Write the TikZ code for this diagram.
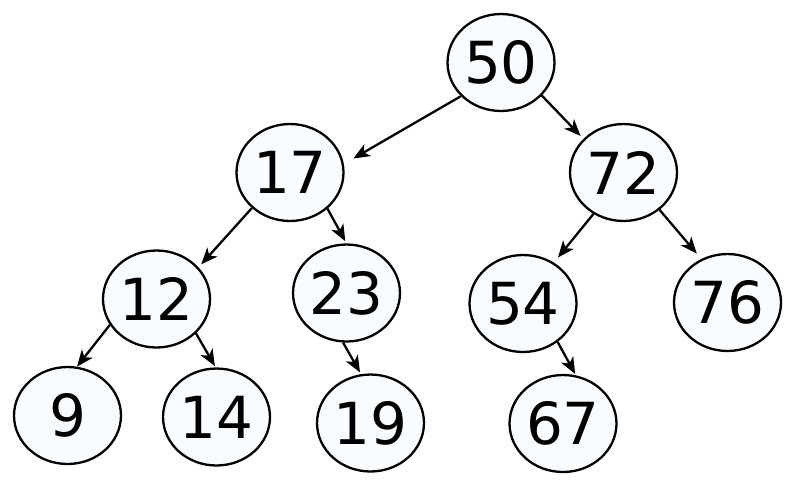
\documentclass[tikz,border=0pt]{standalone}
\usepackage{fontspec}
\setmainfont{DejaVu Sans}
\usetikzlibrary{arrows.meta,shapes.geometric}
\definecolor{keyfill}{HTML}{F8FCFF}
\tikzset{
  key/.style={draw, ellipse, line width=0.046cm, fill=keyfill, minimum width=2.14cm,
    minimum height=1.94cm, inner sep=0pt, font=\fontsize{33}{40}\selectfont},
  link/.style={line width=0.046cm, -{Stealth[length=0.33cm,width=0.27cm,inset=0.09cm]}}
}

\begin{document}
\begin{tikzpicture}[x=0.02cm, y=-0.02cm]
    \useasboundingbox (0,0) rectangle (800,485);

    \foreach \k/\x/\y in {50/501/62.5, 17/290/172.5, 72/623.5/172.5, 12/156.5/299, 23/346.5/293, 54/523/303.5, 76/727.5/302.5, 9/67.5/415.5, 14/216.5/417, 19/370.5/423, 67/563/423.5}
    {
        \node[key] (n\k) at (\x, \y) {\k};
    }

    % parent/child/out anchor/in anchor/gap
    \foreach \a/\b/\s/\t/\g in {50/17/220/9/0.22, 50/72/321/140/0.08, 17/12/223/37/0.08, 17/23/316/90/0.05, 72/54/234/53/0.13, 72/76/314/121/0.14, 12/9/209/79/0, 12/14/319/91/0.03, 23/19/266/101/0.04, 54/67/312/75/0.03}
    {
        \draw[link, shorten >=\g cm] (n\a.\s) -- (n\b.\t);
    }
\end{tikzpicture}
\end{document}
